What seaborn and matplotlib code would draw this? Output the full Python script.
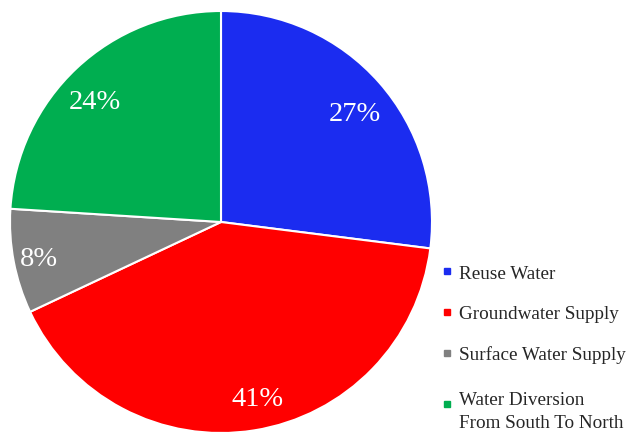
import matplotlib
matplotlib.use("Agg")
import matplotlib.pyplot as plt
from matplotlib.lines import Line2D
from matplotlib.transforms import offset_copy
import seaborn as sns

categories = ["Reuse Water", "Groundwater Supply", "Surface Water Supply",
              "Water Diversion\nFrom South To North"]
shares = [27, 41, 8, 24]
colors = ["#1b2cf0", "#ff0000", "#808080", "#00ae50"]

# small nudges (in pixels) for the percentage labels
label_nudge = [(1, -9), (9, -1), (-8, -3), (-5, -9)]

sns.set_theme(style="white")
plt.rcParams["font.family"] = ["Liberation Serif", "DejaVu Serif"]

fig = plt.figure(figsize=(6.3, 4.35), dpi=100)
W, H = 630, 435
cx, cy, r = 221, 223, 211
ax = fig.add_axes([(cx - r) / W, (H - cy - r) / H, 2 * r / W, 2 * r / H])

wedges, texts, autotexts = ax.pie(
    shares,
    colors=colors,
    startangle=90,
    counterclock=False,
    autopct=lambda p: f"{p:.0f}%",
    pctdistance=0.84,
    wedgeprops=dict(edgecolor="white", linewidth=1.5),
    textprops=dict(color="white", fontsize=20.5),
)
for t, (dx, dy) in zip(autotexts, label_nudge):
    t.set_transform(offset_copy(t.get_transform(), fig=fig, x=dx, y=dy,
                                units="dots"))
ax.set_xlim(-1, 1)
ax.set_ylim(-1, 1)
ax.set_aspect("equal")

handles = [Line2D([0], [0], marker="s", linestyle="none", markersize=5,
                  markerfacecolor=c, markeredgecolor=c) for c in colors]
leg = fig.legend(handles, categories, loc="upper left",
                 bbox_to_anchor=(434 / W, 1 - 258 / H), frameon=False,
                 fontsize=13.8, labelspacing=1.2, handlelength=0.6,
                 handletextpad=0.3, borderaxespad=0)
for t in leg.get_texts():
    t.set_linespacing(1.45)

# two-line entry: drop it a little and keep its marker beside the first line
last_text = leg.get_texts()[-1]
last_text.set_transform(offset_copy(last_text.get_transform(), fig=fig,
                                    x=0, y=-5, units="dots"))
last_handle = leg.legend_handles[-1]
last_handle.set_transform(offset_copy(last_handle.get_transform(), fig=fig,
                                      x=0, y=2, units="dots"))

fig.savefig("out.png", dpi=100)
